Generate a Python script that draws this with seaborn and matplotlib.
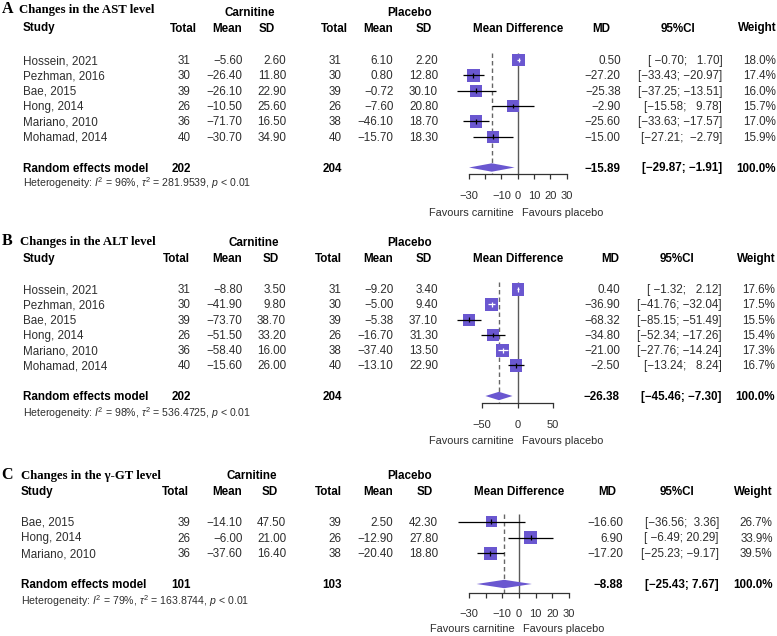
import numpy as np
import pandas as pd
import matplotlib
matplotlib.use("Agg")
import matplotlib.pyplot as plt
import seaborn as sns

# ---------------- data ----------------
studies_A = ["Hossein, 2021", "Pezhman, 2016", "Bae, 2015", "Hong, 2014", "Mariano, 2010", "Mohamad, 2014"]
carn_total_A = [31, 30, 39, 26, 36, 40]
carn_mean_A = [-5.60, -26.40, -26.10, -10.50, -71.70, -30.70]
carn_sd_A = [2.60, 11.80, 22.90, 25.60, 16.50, 34.90]
plac_total_A = [31, 30, 39, 26, 38, 40]
plac_mean_A = [6.10, 0.80, -0.72, -7.60, -46.10, -15.70]
plac_sd_A = [2.20, 12.80, 30.10, 20.80, 18.70, 18.30]
md_A = [0.50, -27.20, -25.38, -2.90, -25.60, -15.00]
lo_A = [-0.70, -33.43, -37.25, -15.58, -33.63, -27.21]
hi_A = [1.70, -20.97, -13.51, 9.78, -17.57, -2.79]
weight_A = [18.0, 17.4, 16.0, 15.7, 17.0, 15.9]
pooled_A = [-15.89, -29.87, -1.91]
totals_A = [202, 204]
het_A = [96, "281.9539"]

studies_B = ["Hossein, 2021", "Pezhman, 2016", "Bae, 2015", "Hong, 2014", "Mariano, 2010", "Mohamad, 2014"]
carn_total_B = [31, 30, 39, 26, 36, 40]
carn_mean_B = [-8.80, -41.90, -73.70, -51.50, -58.40, -15.60]
carn_sd_B = [3.50, 9.80, 38.70, 33.20, 16.00, 26.00]
plac_total_B = [31, 30, 39, 26, 38, 40]
plac_mean_B = [-9.20, -5.00, -5.38, -16.70, -37.40, -13.10]
plac_sd_B = [3.40, 9.40, 37.10, 31.30, 13.50, 22.90]
md_B = [0.40, -36.90, -68.32, -34.80, -21.00, -2.50]
lo_B = [-1.32, -41.76, -85.15, -52.34, -27.76, -13.24]
hi_B = [2.12, -32.04, -51.49, -17.26, -14.24, 8.24]
weight_B = [17.6, 17.5, 15.5, 15.4, 17.3, 16.7]
pooled_B = [-26.38, -45.46, -7.30]
totals_B = [202, 204]
het_B = [98, "536.4725"]

studies_C = ["Bae, 2015", "Hong, 2014", "Mariano, 2010"]
carn_total_C = [39, 26, 36]
carn_mean_C = [-14.10, -6.00, -37.60]
carn_sd_C = [47.50, 21.00, 16.40]
plac_total_C = [39, 26, 38]
plac_mean_C = [2.50, -12.90, -20.40]
plac_sd_C = [42.30, 27.80, 18.80]
md_C = [-16.60, 6.90, -17.20]
lo_C = [-36.56, -6.49, -25.23]
hi_C = [3.36, 20.29, -9.17]
weight_C = [26.7, 33.9, 39.5]
pooled_C = [-8.88, -25.43, 7.67]
totals_C = [101, 103]
het_C = [79, "163.8744"]

ticks_AC = [-30, -20, -10, 0, 10, 20, 30]
ticklabels_AC = ["\u221230", "", "\u221210", "0", "10", "20", "30"]
ticks_B = [-50, 0, 50]
ticklabels_B = ["\u221250", "0", "50"]

# ---------------- style ----------------
sns.set_theme(style="white")
plt.rcParams["font.family"] = ["Liberation Sans", "DejaVu Sans"]
plt.rcParams["mathtext.fontset"] = "custom"
plt.rcParams["mathtext.rm"] = "Liberation Sans"
plt.rcParams["mathtext.it"] = "Liberation Sans:italic"
plt.rcParams["mathtext.bf"] = "Liberation Sans:bold"

W, H = 777, 636
fig = plt.figure(figsize=(W / 100, H / 100), dpi=100)
ax_t = fig.add_axes([0, 0, 1, 1])
ax_t.set_xlim(0, W)
ax_t.set_ylim(H, 0)
ax_t.set_axis_off()

TXT = "#2e2e2e"
PURPLE = "#6a57d0"
FS = 8.4


def fmt(v, nd=2):
    return f"{v:.{nd}f}".replace("-", "\u2212")


def ci_strings(lo, hi):
    los = [fmt(v) for v in lo]
    his = [fmt(v) for v in hi]
    wl = max(len(s) for s in los)
    wh = max(len(s) for s in his)
    return ["[" + " " * (wl - len(a)) + a + "; " + " " * (wh - len(b)) + b + "]" for a, b in zip(los, his)]


def T(x, y, s, ha="left", bold=False, size=FS, color=TXT, **kw):
    ax_t.text(x, y + 1.0, s, ha=ha, va="center", fontsize=size,
              fontweight="bold" if bold else "normal", color=color if not bold else "black", **kw)


def panel(letter, title, L, studies, ct, cm, cs, pt, pm, ps, md, lo, hi, w, pooled, totals, het,
          ticks, ticklabels):
    n = len(studies)
    ys = L["row0"] + L["step"] * np.arange(n)
    # titles
    ax_t.text(1.7, L["base"], letter, family="Liberation Serif", fontweight="bold",
              fontsize=11.5, va="baseline", ha="left", color="black")
    ax_t.text(L["title_x"], L["base"], title, family="Liberation Serif", fontweight="bold",
              fontsize=9.2, va="baseline", ha="left", color="black")
    T(L["carn_x"], L["h1"], "Carnitine", ha="center", bold=True)
    T(409.5, L["h1"], "Placebo", ha="center", bold=True)
    h2 = L["h2"]
    T(L["study_x"], h2, "Study", bold=True)
    T(L["tot_h"], h2, "Total", ha="right", bold=True)
    T(242.3, h2, "Mean", ha="right", bold=True)
    T(L["sd_h"], h2, "SD", ha="right", bold=True)
    T(L["ptot_h"], h2, "Total", ha="right", bold=True)
    T(393.0, h2, "Mean", ha="right", bold=True)
    T(L["psd_h"], h2, "SD", ha="right", bold=True)
    T(L["zero"], h2, "Mean Difference", ha="center", bold=True)
    T(L["md_h"], h2, "MD", ha="right", bold=True)
    T(L["ci_h"], h2, "95%CI", ha="center", bold=True)
    T(L["w_h"], h2, "Weight", ha="right", bold=True)

    cis = ci_strings(lo, hi)
    for i, y in enumerate(ys):
        T(L["study_x"], y, studies[i])
        T(190.7, y, str(ct[i]), ha="right")
        T(242.5, y, fmt(cm[i]), ha="right")
        T(286.0, y, fmt(cs[i]), ha="right")
        T(341.7, y, str(pt[i]), ha="right")
        T(393.3, y, fmt(pm[i]), ha="right")
        T(438.0, y, fmt(ps[i]), ha="right")
        T(L["md_r"], y, fmt(md[i]), ha="right")
        T(L["ci_r"], y, cis[i], ha="right")
        T(L["w_r"], y, f"{w[i]:.1f}%", ha="right")

    yr = L["rand"]
    T(L["study_x"], yr, "Random effects model", bold=True)
    T(190.7, yr, str(totals[0]), ha="right", bold=True)
    T(341.7, yr, str(totals[1]), ha="right", bold=True)
    T(L["md_r"], yr, fmt(pooled[0]), ha="right", bold=True)
    T(L["ci_r"], yr, "[" + fmt(pooled[1]) + "; " + fmt(pooled[2]) + "]", ha="right", bold=True)
    T(L["w_r"], yr, "100.0%", ha="right", bold=True)
    T(L["study_x"], L["het"],
      "Heterogeneity: $I^2$ = %d%%, $\\tau^2$ = %s, $p$ < 0.01" % (het[0], het[1]), size=7.6)

    # favours labels
    T(L["zero"] - 4.4, L["axis"] + L["fav"], "Favours carnitine", ha="right", size=7.9)
    T(L["zero"] + 4.0, L["axis"] + L["fav"], "Favours placebo", ha="left", size=7.9)

    # forest axes
    x0, x1 = 440, 600
    ytop = L["row0"] - 20
    ybot = L["axis"]
    ax = fig.add_axes([x0 / W, 1 - ybot / H, (x1 - x0) / W, (ybot - ytop) / H])
    ax.set_facecolor("none")
    z, s = L["zero"], L["scale"]

    df = pd.DataFrame({"md": md, "y": ys, "w": w, "lo": lo, "hi": hi})
    side_px = L["sq"] * np.sqrt(df["w"] / df["w"].max())
    df["area"] = (side_px * 0.72) ** 2
    inside = (df["hi"] - df["lo"]) * s < side_px
    line_cols = ["white" if v else "black" for v in inside]

    yline_top = L["row0"] - 7.5
    ax.vlines(0, yline_top, ybot, color="#5a5a5a", lw=1.0, zorder=1)
    ax.vlines(pooled[0], yline_top, ybot, color="#666666", lw=1.0,
              linestyles=(0, (3.2, 2.2)), zorder=1)

    sns.scatterplot(data=df, x="md", y="y", size="area",
                    sizes={a: a for a in df["area"]}, marker="s", color=PURPLE,
                    linewidth=0, legend=False, ax=ax, zorder=3)
    ax.hlines(df["y"], df["lo"], df["hi"], colors=line_cols, lw=0.9, zorder=4)
    ax.scatter(df["md"], df["y"], marker="|", s=12, c=line_cols, linewidths=0.9, zorder=5)

    ax.fill([pooled[1], pooled[0], pooled[2], pooled[0]],
            [yr, yr - 4.2, yr, yr + 4.2], color=PURPLE, lw=0, zorder=3)

    ax.set_xlim((x0 - z) / s, (x1 - z) / s)
    ax.set_ylim(ybot, ytop)
    for sp in ["left", "top", "right"]:
        ax.spines[sp].set_visible(False)
    ax.spines["bottom"].set_bounds(ticks[0], ticks[-1])
    ax.spines["bottom"].set_color("#333333")
    ax.spines["bottom"].set_linewidth(0.9)
    ax.set_xticks(ticks)
    ax.set_xticklabels(ticklabels)
    ax.set_yticks([])
    ax.set_xlabel("")
    ax.set_ylabel("")
    ax.tick_params(axis="x", bottom=True, direction="out", length=3.8, width=0.9,
                   color="#333333", pad=L["pad"], labelsize=8.0, labelcolor=TXT)


LA = dict(base=13.3, title_x=19.3, h1=11.7, h2=27.5, row0=60.0, step=15.33, rand=167.5, het=182.5,
          axis=174.3, zero=517.7, scale=1.63, sq=12.8, study_x=22.7, carn_x=249.5,
          tot_h=196.7, sd_h=275.3, ptot_h=348.3, psd_h=431.7,
          md_h=610.7, md_r=620.7, ci_h=678.0, ci_r=722.3, w_h=776.7, w_r=776.0,
          pad=8.5, fav=37.5)
LB = dict(base=245.0, title_x=20.0, h1=242.0, h2=258.3, row0=289.2, step=15.25, rand=396.0, het=411.7,
          axis=403.0, zero=517.7, scale=0.71, sq=12.8, study_x=22.7, carn_x=253.7,
          tot_h=190.0, sd_h=279.0, ptot_h=341.7, psd_h=432.0,
          md_h=619.7, md_r=620.0, ci_h=677.5, ci_r=721.7, w_h=776.0, w_r=775.0,
          pad=8.5, fav=37.0)
LC = dict(base=479.3, title_x=20.7, h1=475.0, h2=491.3, row0=521.7, step=15.8, rand=584.0, het=600.0,
          axis=593.3, zero=519.0, scale=1.667, sq=13.5, study_x=20.7, carn_x=252.0,
          tot_h=189.3, sd_h=278.3, ptot_h=341.7, psd_h=433.0,
          md_h=616.0, md_r=623.3, ci_h=677.0, ci_r=719.0, w_h=772.7, w_r=772.7,
          pad=7.2, fav=34.8)

panel("A", "Changes in the AST level", LA, studies_A, carn_total_A, carn_mean_A, carn_sd_A,
      plac_total_A, plac_mean_A, plac_sd_A, md_A, lo_A, hi_A, weight_A, pooled_A, totals_A, het_A,
      ticks_AC, ticklabels_AC)
panel("B", "Changes in the ALT level", LB, studies_B, carn_total_B, carn_mean_B, carn_sd_B,
      plac_total_B, plac_mean_B, plac_sd_B, md_B, lo_B, hi_B, weight_B, pooled_B, totals_B, het_B,
      ticks_B, ticklabels_B)
panel("C", "Changes in the \u03b3-GT level", LC, studies_C, carn_total_C, carn_mean_C, carn_sd_C,
      plac_total_C, plac_mean_C, plac_sd_C, md_C, lo_C, hi_C, weight_C, pooled_C, totals_C, het_C,
      ticks_AC, ticklabels_AC)

fig.savefig("out.png", dpi=100, facecolor="white")
